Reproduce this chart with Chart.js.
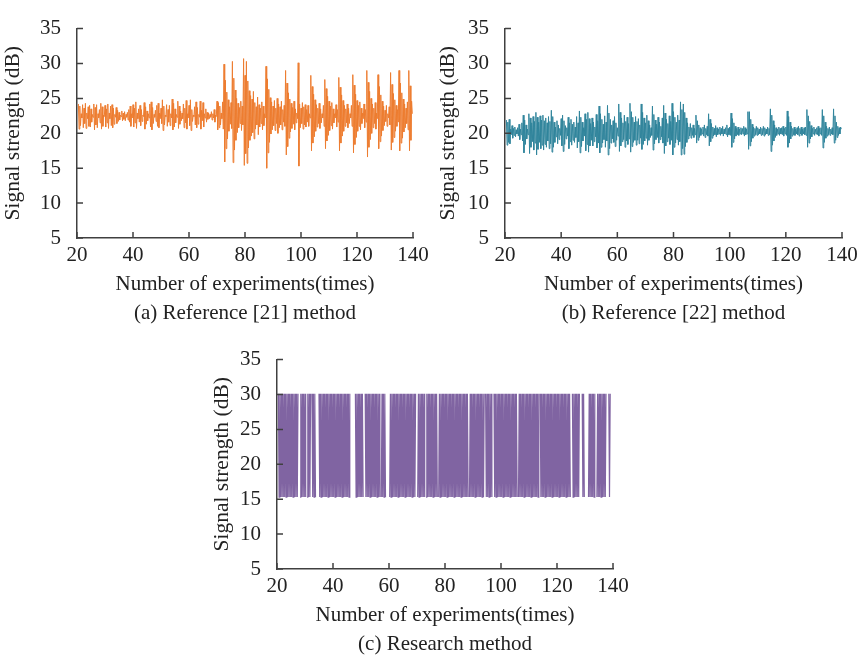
<!DOCTYPE html>
<html>
<head>
<meta charset="utf-8">
<script src="https://cdn.jsdelivr.net/npm/chart.js@4.4.1/dist/chart.umd.min.js"></script>
<style>
	html, body { margin: 0; padding: 0; background: #fff; }
	body { width: 867px; height: 657px; position: relative; overflow: hidden; }
	canvas { position: absolute; }
</style>
</head>
<body>
<canvas id="chartA" width="440" height="330" style="left:0px;top:0px"></canvas>
<canvas id="chartB" width="439" height="330" style="left:428px;top:0px"></canvas>
<canvas id="chartC" width="440" height="326" style="left:200px;top:331px"></canvas>
<script>
// every series starts at experiment 20.5 and is sampled every quarter experiment
const xStart = 20.5
const xStep = 0.25

// (a) Reference [21] method, signal strength (dB), 8 samples per row = 2 experiments
const refA = [
	24.2, 20.6, 23.9, 21.1, 22.8, 22.2, 24.1, 20.8,
	23.6, 21.4, 24.3, 20.7, 22.9, 22.1, 23.8, 21.0,
	24.0, 20.9, 23.5, 21.6, 22.7, 22.3, 24.2, 20.5,
	23.7, 21.2, 24.1, 20.8, 22.8, 22.2, 23.4, 21.5,
	24.3, 20.6, 23.8, 21.0, 22.6, 22.4, 24.0, 20.9,
	23.5, 21.5, 24.2, 20.7, 22.9, 22.1, 23.9, 21.1,
	24.1, 20.8, 23.6, 21.3, 22.7, 22.3, 23.7, 21.4,
	23.3, 21.7, 23.0, 21.9, 22.6, 22.4, 23.2, 21.8,
	22.9, 22.0, 23.1, 21.8, 22.7, 22.3, 23.0, 21.9,
	23.4, 21.6, 23.9, 21.0, 22.8, 22.2, 24.1, 20.9,
	23.6, 21.5, 24.5, 20.7, 22.9, 22.1, 23.5, 21.6,
	24.0, 21.1, 23.4, 21.7, 22.6, 22.4, 24.4, 20.6,
	23.8, 21.3, 23.2, 21.8, 22.8, 22.2, 24.2, 20.9,
	24.5, 20.5, 23.7, 21.4, 22.7, 22.3, 23.3, 21.7,
	24.0, 21.0, 24.3, 20.8, 22.9, 22.1, 23.6, 21.4,
	24.8, 20.4, 23.9, 21.2, 22.6, 22.4, 24.1, 21.0,
	23.4, 21.6, 24.0, 21.1, 22.8, 22.2, 24.9, 20.5,
	24.3, 20.9, 23.5, 21.5, 22.7, 22.3, 24.6, 20.7,
	23.9, 21.3, 23.2, 21.8, 22.9, 22.1, 24.2, 20.8,
	23.6, 21.5, 24.7, 20.6, 22.8, 22.2, 24.0, 21.1,
	24.8, 20.4, 23.4, 21.7, 22.6, 22.4, 23.8, 21.2,
	24.5, 20.8, 23.7, 21.3, 22.7, 22.3, 24.6, 20.6,
	23.3, 21.8, 24.4, 20.9, 22.8, 22.2, 23.5, 21.6,
	23.0, 22.0, 22.9, 22.1, 22.7, 22.3, 23.1, 21.9,
	22.8, 22.2, 23.4, 21.6, 22.6, 22.4, 24.6, 20.5,
	24.4, 20.8, 23.9, 21.2, 22.9, 22.1, 24.5, 20.6,
	29.9, 15.9, 27.6, 17.8, 25.9, 19.2, 24.8, 20.3,
	23.8, 21.3, 24.4, 20.7, 30.3, 15.8, 27.9, 17.6,
	26.2, 19.0, 25.0, 20.1, 24.3, 20.8, 23.7, 21.4,
	24.6, 20.4, 23.9, 21.2, 30.7, 15.4, 28.3, 17.1,
	30.3, 15.7, 27.5, 17.9, 26.1, 19.0, 25.4, 19.6,
	24.9, 20.1, 26.0, 19.2, 24.4, 20.6, 23.8, 21.2,
	25.2, 19.8, 24.1, 20.9, 23.6, 21.4, 24.5, 20.5,
	23.9, 21.1, 22.8, 22.2, 29.6, 15.0, 27.8, 17.2,
	26.3, 18.7, 25.1, 19.9, 24.5, 20.5, 23.9, 21.1,
	24.7, 20.4, 23.6, 21.4, 25.0, 20.0, 24.2, 20.8,
	23.8, 21.2, 24.6, 20.5, 23.4, 21.6, 24.0, 21.0,
	29.0, 16.9, 27.2, 18.1, 25.8, 19.3, 24.9, 20.2,
	24.3, 20.7, 23.7, 21.3, 24.6, 20.5, 23.5, 21.5,
	22.9, 22.1, 30.1, 15.3, 24.2, 20.8, 23.6, 21.4,
	24.4, 20.6, 23.8, 21.2, 24.1, 20.9, 23.4, 21.6,
	24.0, 21.0, 22.8, 22.2, 28.3, 17.5, 26.7, 18.6,
	25.6, 19.5, 24.8, 20.3, 24.1, 20.9, 23.6, 21.4,
	24.3, 20.7, 23.5, 21.5, 22.8, 22.2, 24.0, 21.0,
	27.7, 17.8, 26.4, 18.9, 25.3, 19.7, 24.6, 20.4,
	23.9, 21.1, 24.4, 20.6, 23.5, 21.5, 22.8, 22.2,
	24.1, 20.9, 23.4, 21.6, 28.0, 17.5, 26.6, 18.6,
	25.5, 19.6, 24.7, 20.3, 24.0, 21.0, 23.5, 21.5,
	24.2, 20.8, 23.6, 21.4, 22.8, 22.2, 24.0, 21.0,
	28.4, 17.2, 26.9, 18.4, 25.6, 19.4, 24.7, 20.3,
	24.0, 21.0, 24.5, 20.5, 23.6, 21.4, 22.9, 22.1,
	24.2, 20.8, 23.4, 21.6, 29.0, 16.6, 27.3, 18.0,
	26.0, 19.1, 25.0, 20.0, 24.2, 20.8, 23.6, 21.4,
	24.4, 20.6, 22.9, 22.1, 28.4, 17.8, 26.7, 18.8,
	25.5, 19.6, 24.6, 20.4, 23.9, 21.1, 23.3, 21.7,
	24.0, 21.0, 22.8, 22.2, 23.8, 21.2, 28.7, 17.6,
	27.0, 18.7, 25.7, 19.4, 24.8, 20.3, 24.0, 21.0,
	23.4, 21.6, 29.0, 17.5, 27.2, 18.6, 25.8, 19.3,
	24.9, 20.2, 24.2, 20.8, 23.6, 21.4, 24.5, 20.5,
	29.0, 17.5, 26.8, 19.0, 24.6, 22.8
]

// (b) Reference [22] method
const refB = [
	21.9, 18.3, 21.6, 18.7, 22.0, 18.5, 20.6, 19.8,
	21.1, 19.3, 20.7, 19.7, 20.9, 19.5, 20.5, 19.9,
	20.8, 19.6, 21.3, 19.1, 20.6, 19.8, 21.5, 18.9,
	22.6, 17.2, 21.9, 18.4, 21.2, 19.2, 20.6, 19.8,
	22.8, 17.1, 22.2, 18.0, 21.5, 18.8, 22.4, 17.6,
	21.7, 18.6, 23.0, 16.9, 22.3, 17.7, 21.6, 18.7,
	22.5, 17.8, 21.9, 18.3, 22.6, 17.6, 21.8, 18.4,
	22.2, 18.0, 21.5, 18.9, 22.4, 17.8, 21.7, 18.5,
	23.3, 17.3, 22.4, 18.0, 21.6, 18.7, 20.9, 19.5,
	21.8, 18.5, 21.2, 19.1, 20.7, 19.7, 22.1, 18.2,
	22.6, 17.4, 21.8, 18.4, 21.1, 19.2, 20.8, 19.6,
	22.3, 17.8, 21.5, 18.8, 22.0, 18.3, 21.3, 19.0,
	21.6, 18.7, 20.9, 19.4, 22.4, 17.9, 21.5, 18.8,
	23.2, 17.2, 22.3, 18.1, 21.6, 18.9, 20.8, 19.6,
	22.8, 17.5, 22.0, 18.4, 23.0, 17.3, 22.1, 18.2,
	21.4, 19.0, 22.2, 18.2, 21.6, 18.8, 20.9, 19.5,
	22.7, 17.9, 21.8, 18.6, 23.9, 17.2, 22.8, 18.0,
	22.0, 18.6, 21.3, 19.1, 22.5, 18.0, 21.6, 18.9,
	24.0, 16.9, 22.9, 17.8, 22.0, 18.6, 21.2, 19.2,
	21.8, 18.7, 22.4, 18.1, 21.5, 19.0, 20.8, 19.6,
	24.2, 17.4, 23.0, 18.2, 22.2, 18.8, 21.5, 19.1,
	22.6, 18.0, 21.7, 18.9, 22.3, 18.4, 21.4, 19.2,
	24.3, 17.3, 23.1, 18.1, 22.3, 18.7, 21.6, 19.0,
	22.4, 18.3, 21.7, 19.0, 22.1, 18.5, 21.2, 19.3,
	24.2, 17.7, 23.0, 18.4, 22.2, 18.9, 21.5, 19.3,
	22.6, 18.3, 21.8, 19.0, 21.2, 19.4, 20.8, 19.7,
	23.9, 17.6, 22.7, 18.5, 21.9, 19.1, 21.3, 19.4,
	22.3, 18.6, 21.6, 19.1, 21.0, 19.5, 22.2, 18.6,
	24.0, 17.1, 22.9, 18.2, 22.0, 18.8, 21.4, 19.3,
	22.5, 18.4, 21.7, 19.0, 24.3, 16.9, 23.1, 18.0,
	22.3, 18.6, 21.6, 19.1, 22.6, 18.3, 21.9, 18.8,
	24.5, 16.9, 23.4, 17.8, 24.2, 17.0, 23.0, 18.1,
	22.2, 18.7, 21.5, 19.2, 20.9, 19.6, 21.4, 19.3,
	20.8, 19.7, 21.2, 19.4, 20.7, 19.8, 22.6, 18.6,
	21.8, 19.0, 21.2, 19.4, 20.8, 19.7, 20.6, 19.9,
	20.9, 19.6, 21.2, 19.4, 20.7, 19.8, 21.0, 19.6,
	22.8, 18.2, 22.0, 18.8, 21.4, 19.3, 20.9, 19.6,
	20.7, 19.8, 21.1, 19.5, 20.8, 19.8, 20.6, 19.9,
	20.9, 19.7, 20.7, 19.9, 21.0, 19.6, 20.6, 19.9,
	20.8, 19.8, 21.2, 19.5, 20.7, 19.8, 20.9, 19.7,
	22.9, 18.0, 22.1, 18.7, 21.5, 19.2, 21.0, 19.6,
	20.7, 19.8, 20.9, 19.7, 20.6, 19.9, 20.8, 19.8,
	20.7, 19.9, 21.0, 19.6, 20.8, 19.8, 20.6, 19.9,
	23.1, 17.7, 23.1, 18.2, 22.0, 18.8, 21.3, 19.3,
	20.9, 19.6, 20.7, 19.8, 21.0, 19.7, 20.8, 19.8,
	20.6, 19.9, 20.9, 19.7, 20.7, 19.8, 21.0, 19.6,
	20.8, 19.8, 20.6, 19.9, 20.9, 19.7, 20.7, 19.8,
	23.5, 17.4, 22.6, 18.3, 21.8, 18.9, 21.2, 19.4,
	20.8, 19.7, 20.6, 19.9, 20.9, 19.7, 20.7, 19.9,
	20.8, 19.8, 21.0, 19.6, 20.7, 19.9, 20.9, 19.7,
	23.2, 18.0, 22.4, 18.6, 21.6, 19.2, 21.0, 19.6,
	20.7, 19.8, 20.9, 19.7, 20.6, 19.9, 20.8, 19.8,
	21.0, 19.6, 20.7, 19.9, 20.9, 19.7, 20.6, 19.9,
	20.8, 19.8, 20.9, 19.7, 23.4, 18.0, 22.5, 18.6,
	21.7, 19.2, 21.1, 19.5, 20.7, 19.9, 20.9, 19.7,
	20.6, 19.9, 20.8, 19.8, 21.0, 19.6, 20.7, 19.9,
	20.8, 19.7, 23.4, 17.9, 22.5, 18.7, 21.6, 19.3,
	21.0, 19.6, 20.7, 19.8, 20.9, 19.7, 20.6, 19.9,
	20.8, 19.8, 23.5, 18.6, 22.5, 19.0, 21.6, 19.4,
	21.0, 19.7, 20.8, 19.9, 20.9, 20.6
]

// (c) Research method, null = no signal recorded
const research = [
	30.1, 15.3, 30.1, 15.3, 30.1, 15.3, 30.1, 15.3,
	30.1, 15.3, 30.1, 15.3, 30.1, 15.3, 30.1, 15.3,
	30.1, 15.3, 30.1, 15.3, 30.1, 15.3, 30.1, 15.3,
	30.1, 15.3, 30.1, 15.3, 30.1, null, null, 15.3,
	30.1, 15.3, 30.1, 15.3, 30.1, 15.3, 30.1, 15.3,
	null, 15.3, 30.1, 15.3, 30.1, 15.3, 30.1, null,
	30.1, 15.3, 30.1, 15.3, 30.1, 15.3, null, null,
	null, null, 30.1, 15.3, 30.1, 15.3, 30.1, 15.3,
	30.1, 15.3, 30.1, 15.3, 30.1, 15.3, 30.1, 15.3,
	30.1, 15.3, 30.1, 15.3, 30.1, 15.3, 30.1, 15.3,
	30.1, 15.3, 30.1, 15.3, 30.1, 15.3, 30.1, 15.3,
	30.1, 15.3, 30.1, 15.3, 30.1, 15.3, 30.1, 15.3,
	30.1, 15.3, 30.1, 15.3, 30.1, 15.3, 30.1, null,
	null, null, null, null, null, null, 30.1, 15.3,
	30.1, 15.3, 30.1, 15.3, 30.1, 15.3, 30.1, 15.3,
	30.1, 15.3, null, null, 30.1, 15.3, 30.1, 15.3,
	30.1, 15.3, 30.1, 15.3, 30.1, 15.3, 30.1, 15.3,
	30.1, 15.3, 30.1, 15.3, 30.1, 15.3, 30.1, 15.3,
	30.1, 15.3, null, 15.3, 30.1, 15.3, 30.1, 15.3,
	30.1, 15.3, null, null, null, null, null, 15.3,
	30.1, 15.3, 30.1, 15.3, 30.1, 15.3, 30.1, 15.3,
	30.1, 15.3, 30.1, 15.3, 30.1, 15.3, 30.1, 15.3,
	30.1, 15.3, 30.1, 15.3, 30.1, 15.3, 30.1, 15.3,
	30.1, 15.3, 30.1, 15.3, 30.1, 15.3, 30.1, 15.3,
	30.1, 15.3, 30.1, 15.3, 30.1, null, null, 15.3,
	30.1, 15.3, 30.1, 15.3, 30.1, 15.3, 30.1, 15.3,
	30.1, 15.3, null, 15.3, 30.1, 15.3, 30.1, 15.3,
	30.1, 15.3, 30.1, 15.3, 30.1, 15.3, 30.1, 15.3,
	30.1, 15.3, 30.1, 15.3, null, 15.3, 30.1, 15.3,
	30.1, 15.3, 30.1, 15.3, 30.1, 15.3, 30.1, 15.3,
	30.1, 15.3, 30.1, 15.3, 30.1, 15.3, 30.1, 15.3,
	30.1, 15.3, 30.1, 15.3, 30.1, 15.3, 30.1, 15.3,
	30.1, 15.3, 30.1, 15.3, 30.1, 15.3, 30.1, 15.3,
	30.1, 15.3, 30.1, 15.3, 30.1, 15.3, 30.1, 15.3,
	null, 15.3, 30.1, 15.3, 30.1, 15.3, 30.1, 15.3,
	30.1, 15.3, 30.1, 15.3, 30.1, 15.3, 30.1, 15.3,
	30.1, 15.3, 30.1, 15.3, 30.1, 15.3, 30.1, null,
	30.1, 15.3, 30.1, 15.3, 30.1, 15.3, 30.1, 15.3,
	30.1, 15.3, null, null, 30.1, 15.3, 30.1, 15.3,
	30.1, 15.3, 30.1, 15.3, 30.1, 15.3, 30.1, 15.3,
	30.1, 15.3, 30.1, 15.3, 30.1, 15.3, 30.1, 15.3,
	30.1, 15.3, 30.1, 15.3, 30.1, 15.3, 30.1, 15.3,
	30.1, 15.3, 30.1, 15.3, 30.1, 15.3, null, 15.3,
	30.1, 15.3, 30.1, 15.3, 30.1, 15.3, 30.1, 15.3,
	30.1, 15.3, 30.1, 15.3, 30.1, 15.3, 30.1, 15.3,
	30.1, 15.3, 30.1, 15.3, 30.1, 15.3, 30.1, 15.3,
	30.1, 15.3, 30.1, 15.3, 30.1, null, 30.1, 15.3,
	30.1, 15.3, 30.1, 15.3, 30.1, 15.3, 30.1, 15.3,
	30.1, 15.3, 30.1, 15.3, 30.1, 15.3, 30.1, 15.3,
	30.1, 15.3, 30.1, 15.3, 30.1, 15.3, 30.1, 15.3,
	30.1, 15.3, 30.1, 15.3, 30.1, 15.3, 30.1, 15.3,
	30.1, 15.3, 30.1, 15.3, 30.1, 15.3, 30.1, 15.3,
	30.1, 15.3, null, null, 30.1, 15.3, 30.1, 15.3,
	30.1, 15.3, 30.1, 15.3, 30.1, 15.3, 30.1, null,
	null, null, 30.1, 15.3, 30.1, 15.3, null, null,
	null, null, null, 15.3, 30.1, 15.3, 30.1, 15.3,
	30.1, 15.3, 30.1, 15.3, 30.1, null, null, 15.3,
	30.1, 15.3, 30.1, 15.3, 30.1, 15.3, 30.1, 15.3,
	30.1, 15.3, 30.1, 15.3, 30.1, null, null, null,
	30.1, 15.3, 30.1
]

const xLabel = 'Number of experiments(times)'
const yLabel = 'Signal strength (dB)'

Chart.defaults.font.family = '"Liberation Serif", "Times New Roman", serif'
Chart.defaults.color = '#222'

// inward tick marks and the caption under each panel
const panelDecor = {
	id: 'panelDecor',
	afterDraw(chart, args, opts) {
		const { ctx, chartArea: area, scales: { x, y } } = chart
		ctx.save()
		ctx.strokeStyle = '#404040'
		ctx.lineWidth = 1.5
		ctx.beginPath()
		x.ticks.forEach(t => {
			const px = x.getPixelForValue(t.value)
			ctx.moveTo(px, area.bottom)
			ctx.lineTo(px, area.bottom - 6)
		})
		y.ticks.forEach(t => {
			const py = y.getPixelForValue(t.value)
			ctx.moveTo(area.left, py)
			ctx.lineTo(area.left + 6, py)
		})
		ctx.stroke()
		ctx.font = '21px "Liberation Serif"'
		ctx.fillStyle = '#222'
		ctx.textAlign = 'center'
		ctx.textBaseline = 'middle'
		ctx.fillText(opts.caption, (area.left + area.right) / 2, area.bottom + 75)
		ctx.restore()
	}
}

function makePanel(id, values, color, width, caption, pad, titlePad) {
	const points = values.map((v, i) => ({ x: xStart + i * xStep, y: v }))
	return new Chart(document.getElementById(id), {
		type: 'line',
		data: {
			datasets: [{
				data: points,
				borderColor: color,
				borderWidth: width,
				pointRadius: 0,
				tension: 0,
			}],
		},
		options: {
			animation: false,
			responsive: false,
			devicePixelRatio: 1,
			layout: { padding: pad },
			plugins: {
				legend: { display: false },
				tooltip: { enabled: false },
				panelDecor: { caption: caption },
			},
			scales: {
				x: {
					type: 'linear',
					min: 20,
					max: 140,
					grid: { display: false, drawTicks: false },
					border: { color: '#404040', width: 1.5 },
					ticks: { stepSize: 20, padding: 5, font: { size: 21 } },
					title: { display: true, text: xLabel, font: { size: 21 }, padding: { top: 0, bottom: 3 } },
					afterFit: s => { s.height = 62 },
				},
				y: {
					min: 5,
					max: 35,
					grid: { display: false, drawTicks: false },
					border: { color: '#404040', width: 1.5 },
					ticks: { stepSize: 5, padding: 16, font: { size: 21 } },
					title: { display: true, text: yLabel, font: { size: 21.5 }, padding: { top: titlePad, bottom: 0 } },
					afterFit: s => { s.width = 77 },
				},
			},
		},
		plugins: [panelDecor],
	})
}

makePanel('chartA', refA, '#ED7D31', 1, '(a) Reference [21] method', { top: 15, right: 27, bottom: 30, left: 0 }, 0)
makePanel('chartB', refB, '#31859C', 1, '(b) Reference [22] method', { top: 15, right: 25, bottom: 30, left: 0 }, 7)
makePanel('chartC', research, '#8064A2', 1.2, '(c) Research method', { top: 15, right: 27, bottom: 26, left: 0 }, 9)
</script>
</body>
</html>
